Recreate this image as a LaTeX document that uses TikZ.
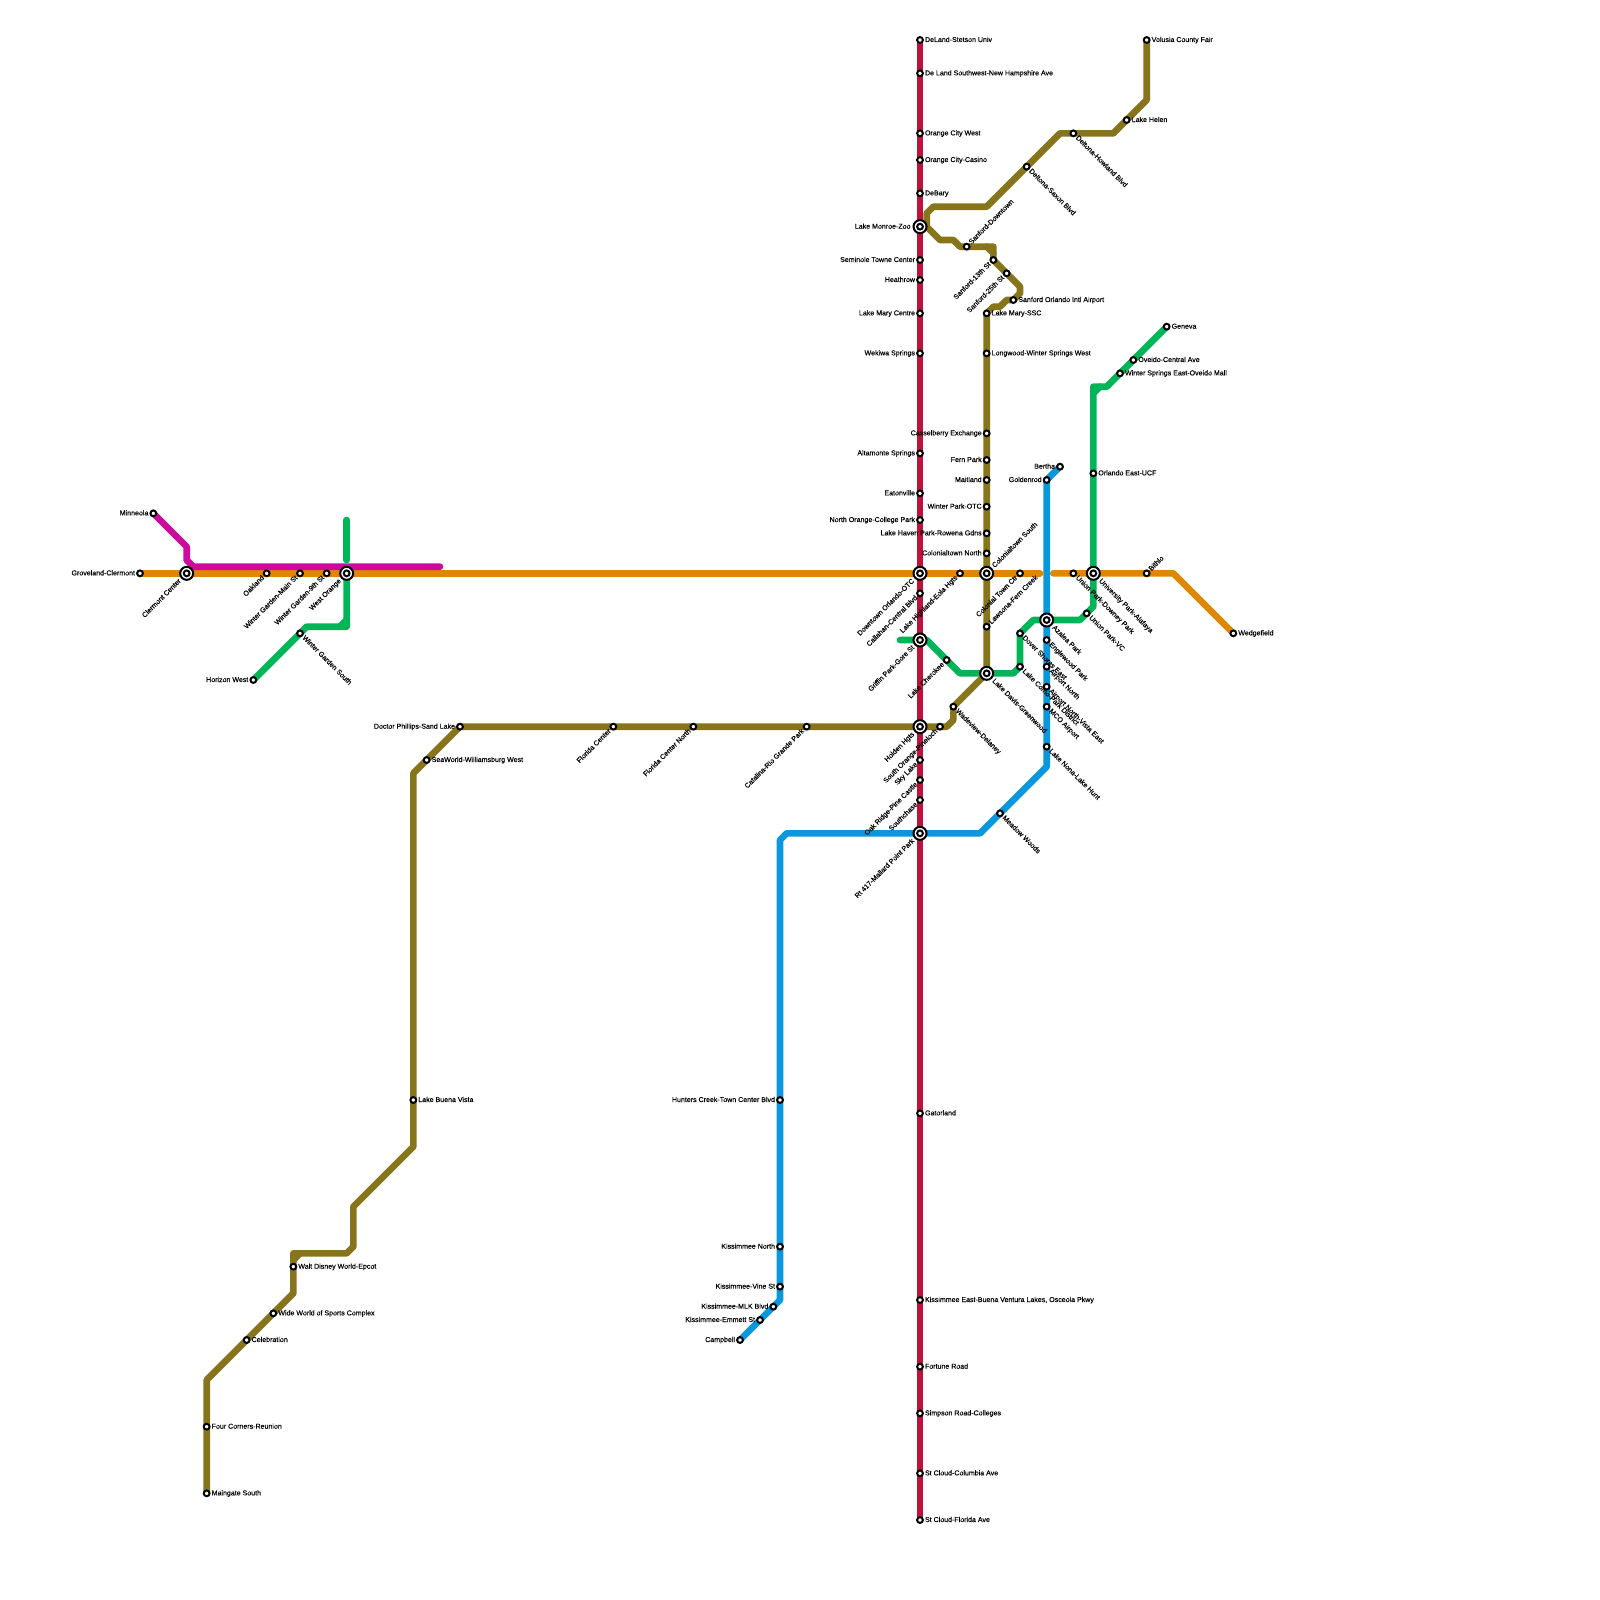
\documentclass[tikz,border=0pt]{standalone}
\usepackage{fontspec}
\setmainfont{Liberation Sans}[FakeBold=0.3]
\usepackage{xcolor}
\usetikzlibrary{backgrounds}
\definecolor{redline}{HTML}{BE123C}
\definecolor{orangeline}{HTML}{E08700}
\definecolor{oliveline}{HTML}{86751A}
\definecolor{blueline}{HTML}{0A97DC}
\definecolor{greenline}{HTML}{00B558}
\definecolor{pinkline}{HTML}{CC0B9E}
\begin{document}
\begin{tikzpicture}[
  x=6.6667pt, y=-6.6667pt,
  every node/.style={font=\fontsize{7.05}{8}\selectfont, text=black, outer sep=0pt, text height=4pt, text depth=0pt},
  route/.style={line width=6.6667pt, line cap=round, line join=round},
  stn/.style={draw=black, line width=2pt, fill=white, circle, inner sep=0pt, minimum size=5.8pt, text height=0pt},
  xchg/.style={draw=black, line width=2pt, fill=white, circle, inner sep=0pt, minimum size=13pt, text height=0pt},
  lblr/.style={anchor=west, inner xsep=5pt, inner ysep=0pt},
  lbll/.style={anchor=east, inner xsep=5pt, inner ysep=0pt},
  lblur/.style={anchor=west, rotate=45, inner xsep=5pt, inner ysep=0pt},
  lbldl/.style={anchor=east, rotate=45, inner xsep=5pt, inner ysep=0pt},
  lbldr/.style={anchor=west, rotate=-45, inner xsep=5pt, inner ysep=0pt},
  xlbl/.style={inner xsep=9.5pt},
]
\useasboundingbox (0,0) rectangle (240,240);

% ---------------- interchanges ----------------
\foreach \n/\x/\y in {clermont/28/86,westorange/52/86,monroe/138/34,downtown/138/86,griffin/138/96,
  holden/138/109,mallard/138/125,colonis/148/86,lakedavis/148/101,azalea/157/93,university/164/86}{
  \node[xchg] (\n) at (\x,\y) {};
  \node[stn] (\n-s) at (\x,\y) {};
}
\node[lbldl,xlbl] (clermont-l) at (clermont.center) {Clermont Center};
\node[lbldl,xlbl] (westorange-l) at (westorange.center) {West Orange};
\node[lbll,xlbl] (monroe-l) at (monroe.center) {Lake Monroe-Zoo};
\node[lbldl,xlbl] (downtown-l) at (downtown.center) {Downtown Orlando-OTC};
\node[lbldl,xlbl] (griffin-l) at (griffin.center) {Griffin Park-Gore St};
\node[lbldl,xlbl] (holden-l) at (holden.center) {Holden Hgts};
\node[lbldl,xlbl] (mallard-l) at (mallard.center) {Rt 417-Mallard Point Park};
\node[lblur,xlbl] (colonis-l) at (colonis.center) {Colonialtown South};
\node[lbldr,xlbl] (lakedavis-l) at (lakedavis.center) {Lake Davis-Greenwood};
\node[lbldr,xlbl] (azalea-l) at (azalea.center) {Azalea Park};
\node[lbldr,xlbl] (university-l) at (university.center) {University Park-Alafaya};

% ---------------- stations, label to the right ----------------
\foreach \n/\x/\y/\t in {deland/138/6/DeLand-Stetson Univ,delandsw/138/11/De Land Southwest-New Hampshire Ave,
  orangewest/138/20/Orange City West,orangecasino/138/24/Orange City-Casino,debary/138/29/DeBary,
  gatorland/138/167/Gatorland,kissbuena/138/195/{Kissimmee East-Buena Ventura Lakes, Osceola Pkwy},
  fortune/138/205/Fortune Road,simpson/138/212/Simpson Road-Colleges,columbia/138/221/St Cloud-Columbia Ave,
  floridaave/138/228/St Cloud-Florida Ave,volusia/172/6/Volusia County Fair,lakehelen/169/18/Lake Helen,
  sanfordair/152/45/Sanford Orlando Intl Airport,lakemaryssc/148/47/Lake Mary-SSC,
  longwood/148/53/Longwood-Winter Springs West,geneva/175/49/Geneva,oveido/170/54/Oveido-Central Ave,
  winterspr/168/56/Winter Springs East-Oveido Mall,ucf/164/71/Orlando East-UCF,wedgefield/185/95/Wedgefield,
  seaworld/64/114/SeaWorld-Williamsburg West,buenavista/62/165/Lake Buena Vista,
  disney/44/190/Walt Disney World-Epcot,wideworld/41/197/Wide World of Sports Complex,
  celebration/37/201/Celebration,fourcorners/31/214/Four Corners-Reunion,maingate/31/224/Maingate South}{
  \node[stn] (\n) at (\x,\y) {};
  \node[lblr] (\n-l) at (\n.center) {\t};
}
% ---------------- label to the left ----------------
\foreach \n/\x/\y/\t in {seminole/138/39/Seminole Towne Center,heathrow/138/42/Heathrow,lakemary/138/47/Lake Mary Centre,
  wekiwa/138/53/Wekiwa Springs,altamonte/138/68/Altamonte Springs,eatonville/138/74/Eatonville,
  northorange/138/78/North Orange-College Park,casselberry/148/65/Casselberry Exchange,fern/148/69/Fern Park,
  maitland/148/72/Maitland,winterpark/148/76/Winter Park-OTC,lakehaven/148/80/Lake Haven Park-Rowena Gdns,
  colonin/148/83/Colonialtown North,goldenrod/157/72/Goldenrod,bertha/159/70/Bertha,
  groveland/21/86/Groveland-Clermont,minneola/23/77/Minneola,horizon/38/102/Horizon West,
  drphillips/69/109/Doctor Phillips-Sand Lake,hunters/117/165/Hunters Creek-Town Center Blvd,
  kissnorth/117/187/Kissimmee North,vine/117/193/Kissimmee-Vine St,mlk/116/196/Kissimmee-MLK Blvd,
  emmett/114/198/Kissimmee-Emmett St,campbell/111/201/Campbell}{
  \node[stn] (\n) at (\x,\y) {};
  \node[lbll] (\n-l) at (\n.center) {\t};
}
% ---------------- rotated labels ----------------
\foreach \n/\x/\y/\t in {sanforddown/145/37/Sanford-Downtown,bithlo/172/86/Bithlo,lawsona/148/94/Lawsona-Fern Creek}{
  \node[stn] (\n) at (\x,\y) {};
  \node[lblur] (\n-l) at (\n.center) {\t};
}
\foreach \n/\x/\y/\t in {oakland/40/86/Oakland,mainst/45/86/Winter Garden-Main St,ninthst/49/86/Winter Garden-9th St,
  callahan/138/89/Callahan-Central Blvd,highland/144/86/Lake Highland-Eola Hgts,colonial/153/86/Colonial Town Ctr,
  cherokee/142/99/Lake Cherokee,flcenter/92/109/Florida Center,flnorth/104/109/Florida Center North,
  catalina/121/109/Catalina-Rio Grande Park,pineloch/141/109/South Orange-Pineloch,skylake/138/114/Sky Lake,
  oakridge/138/117/Oak Ridge-Pine Castle,southchase/138/120/Southchase,sanford13/149/39/Sanford-13th St,
  sanford25/151/41/Sanford-25th St}{
  \node[stn] (\n) at (\x,\y) {};
  \node[lbldl] (\n-l) at (\n.center) {\t};
}
\foreach \n/\x/\y/\t in {saxon/154/25/Deltona-Saxon Blvd,howland/161/20/Deltona-Howland Blvd,wgsouth/45/95/Winter Garden South,
  downey/161/86/Union Park-Downey Park,unionvc/163/92/Union Park-VC,englewood/157/96/Englewood Park,
  dover/153/95/Dover Shores East,lakecomo/153/100/Lake Como-Park District,airportn/157/100/Airport North,
  vista/157/103/Airport North-Vista East,mco/157/106/MCO Airport,nona/157/112/Lake Nona-Lake Hunt,
  meadow/150/122/Meadow Woods,wadeview/143/106/Wadeview-Delaney}{
  \node[stn] (\n) at (\x,\y) {};
  \node[lbldr] (\n-l) at (\n.center) {\t};
}

% ---------------- bends ----------------
\foreach \n/\x/\y in {orA/156/86,orB/158/86,orC/176/86,pkA/28/82,pkB/28/84,pkC/29/85,pkD/66/85,
  gwA/52/78,gwB/52/84,gwC/52/93,gwD/52/94,gwE/51/94,gwF/46/94,
  geA/135/96,geB/139/96,geC/144/101,geD/152/101,geE/155/93,geF/162/93,geG/164/91,geH/164/59,geI/164/58,geJ/165/58,geK/166/58,
  blA/157/115,blB/147/125,blC/118/125,blD/117/126,blE/117/195,
  olA/31/207,olB/44/194,olC/44/189,olD/44/188,olE/45/188,olF/52/188,olG/53/187,olH/53/181,olI/62/172,olJ/62/116,
  olK/142/109,olL/143/108,olM/139/34,olN/139/32,olO/140/31,olP/148/31,olQ/159/20,olR/167/20,olS/172/15,
  olT/141/36,olU/143/36,olV/144/37,olW/148/37,olX/149/37,olY/149/38,olZ/153/43,olAA/153/44,olAB/151/45,olAC/150/46,olAD/149/46}{
  \coordinate (\n) at (\x,\y);
}

% ---------------- lines ----------------
\begin{scope}[on background layer]
\draw[route,orangeline] (groveland.center) -- (orA);
\draw[route,orangeline] (orB) -- (orC) -- (wedgefield.center);
\draw[route,pinkline] (minneola.center) -- (pkA) -- (pkB) -- (pkC) -- (pkD);
\draw[route,greenline] (gwA) -- (gwB);
\draw[route,greenline] (westorange.center) -- (gwD) -- (gwF) -- (horizon.center);
\draw[route,greenline] (gwC) -- (gwE);
\draw[route,greenline] (geA) -- (geB) -- (geC) -- (geD) -- (lakecomo.center) -- (dover.center) -- (geE) -- (geF) -- (geG)
  -- (geI) -- (geK) -- (geneva.center);
\draw[route,greenline] (geH) -- (geJ);
\draw[route,oliveline] (maingate.center) -- (olA) -- (olB) -- (olD) -- (olF) -- (olG) -- (olH) -- (olI) -- (olJ)
  -- (drphillips.center) -- (olK) -- (olL) -- (wadeview.center) -- (lakedavis.center) -- (lakemaryssc.center) -- (olAD) -- (olAC)
  -- (olAB) -- (sanfordair.center) -- (olAA) -- (olZ) -- (sanford13.center) -- (olX) -- (olV) -- (olU) -- (olT) -- (olM)
  -- (olN) -- (olO) -- (olP) -- (olQ) -- (olR) -- (olS) -- (volusia.center);
\draw[route,oliveline] (olC) -- (olE);
\draw[route,oliveline] (olW) -- (olY);
\draw[route,blueline] (bertha.center) -- (goldenrod.center) -- (blA) -- (blB) -- (blC) -- (blD) -- (blE) -- (campbell.center);
\draw[route,redline] (deland.center) -- (floridaave.center);
\end{scope}
\end{tikzpicture}
\end{document}
